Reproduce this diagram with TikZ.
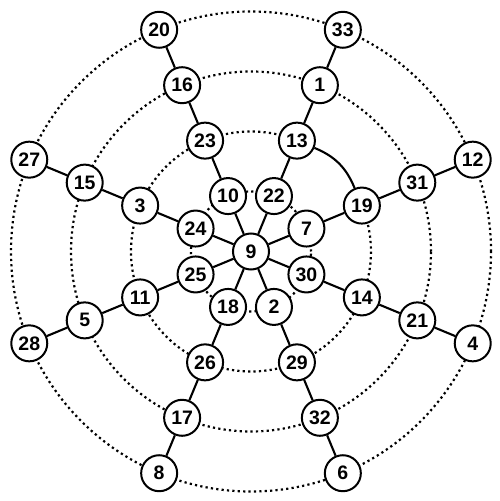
\documentclass[tikz,border=0pt]{standalone}
\usepackage{fontspec}
\setmainfont{Liberation Sans}
\begin{document}
\begin{tikzpicture}[x=1pt,y=1pt,
  vtx/.style={circle,draw,line width=2pt,fill=white,minimum size=36pt,inner sep=0pt,
    font=\bfseries\fontsize{19.5}{19.5}\selectfont},
  ring/.style={line width=2.2pt,dash pattern=on 2.2pt off 3.2pt},
  edge/.style={line width=2.1pt}]
\useasboundingbox (0,0) rectangle (500,501);
\begin{scope}[shift={(251,249.5)}]
  \foreach \r in {60,180,240}
    \draw[ring] (0,0) circle[radius=\r pt];
  \draw[ring] (67.5:120pt) arc[start angle=67.5, end angle=382.5, radius=120pt];
  \node[vtx] (n9) at (0,0) {9};
  \foreach \a/\p/\q/\s/\t in {112.5/10/23/16/20, 67.5/22/13/1/33, 22.5/7/19/31/12,
      -22.5/30/14/21/4, -67.5/2/29/32/6, -112.5/18/26/17/8, -157.5/25/11/5/28, 157.5/24/3/15/27}{
    \node[vtx] (n\p) at (\a:60pt) {\p};
    \node[vtx] (n\q) at (\a:120pt) {\q};
    \node[vtx] (n\s) at (\a:180pt) {\s};
    \node[vtx] (n\t) at (\a:240pt) {\t};
    \draw[edge] (n9) -- (n\p) -- (n\q) -- (n\s) -- (n\t);
  }
  \draw[edge] (n13) to[bend left=22.5] (n19);
\end{scope}
\end{tikzpicture}
\end{document}
